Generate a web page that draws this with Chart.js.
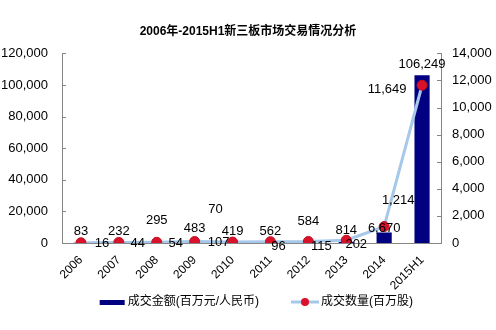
<!DOCTYPE html>
<html>
<head>
<meta charset="utf-8">
<script src="https://cdn.jsdelivr.net/npm/chart.js@4"></script>
<style>
  body { margin: 0; background: #fff; }
  #wrap { width: 496px; height: 330px; }
</style>
</head>
<body>
<div id="wrap"><canvas id="tradeChart" width="496" height="330"></canvas></div>
<script>
// 新三板 2006-2015H1
const years = ['2006','2007','2008','2009','2010','2011','2012','2013','2014','2015H1'];
const turnover = [83, 232, 295, 483, 419, 562, 584, 814, 6670, 106249];   // 成交金额(百万元/人民币)
const volume = [16, 44, 54, 107, 70, 96, 115, 202, 1214, 11649];          // 成交数量(百万股)
const leftTicks = [0, 20000, 40000, 60000, 80000, 100000, 120000];
const rightTicks = [0, 2000, 4000, 6000, 8000, 10000, 12000, 14000];

// label nudges (px), kept apart from the values
const barLabelLift = [0, 0, 11, 3, 0, 0, 10, 0, -7, 0];
const lineLabelShift = [[21,1],[19,1],[19,1],[24,1],[-17,-33],[8,5],[13,5],[10,4],[14,-26],[-35,4]];

const FONT = '"Liberation Sans", Arial, "Noto Sans CJK SC", sans-serif';
const fmt = v => v.toLocaleString('en-US');

// legend swatches (drawn a bit wider than the legend box so they sit close to the text)
function swatch(kind) {
    const c = document.createElement('canvas');
    c.width = 60; c.height = 12;
    const g = c.getContext('2d');
    if (kind === 'bar') {
        g.fillStyle = '#000080';
        g.fillRect(34, 4, 25, 5);
    } else {
        g.strokeStyle = '#a6c8ea';
        g.lineWidth = 3;
        g.beginPath(); g.moveTo(32, 6); g.lineTo(60, 6); g.stroke();
        g.fillStyle = '#d9112b';
        g.beginPath(); g.arc(46, 6, 4, 0, Math.PI * 2); g.fill();
    }
    return c;
}

// value labels + inner tick marks
const extras = {
    id: 'extras',
    afterDatasetsDraw(chart) {
        const ctx = chart.ctx;
        ctx.save();
        ctx.font = '13px ' + FONT;
        ctx.fillStyle = '#000';
        ctx.textAlign = 'center';
        ctx.textBaseline = 'middle';
        const bars = chart.getDatasetMeta(0).data;
        bars.forEach((b, i) => {
            ctx.fillText(fmt(turnover[i]), b.x, b.y - 11 - barLabelLift[i]);
        });
        const pts = chart.getDatasetMeta(1).data;
        pts.forEach((p, i) => {
            ctx.fillText(fmt(volume[i]), p.x + lineLabelShift[i][0], p.y + lineLabelShift[i][1]);
        });

        const area = chart.chartArea;
        ctx.strokeStyle = '#868686';
        ctx.lineWidth = 1;
        ctx.beginPath();
        leftTicks.forEach(v => {
            const y = Math.round(chart.scales.yL.getPixelForValue(v)) + 0.5;
            ctx.moveTo(area.left, y); ctx.lineTo(area.left + 4, y);
        });
        rightTicks.forEach(v => {
            const y = Math.round(chart.scales.yR.getPixelForValue(v)) + 0.5;
            ctx.moveTo(area.right, y); ctx.lineTo(area.right - 4, y);
        });
        ctx.stroke();
        ctx.restore();
    }
};

new Chart(document.getElementById('tradeChart'), {
    data: {
        labels: years,
        datasets: [{
            type: 'bar',
            label: '成交金额(百万元/人民币)',
            data: turnover,
            yAxisID: 'yL',
            backgroundColor: '#000080',
            barPercentage: 0.4,
            categoryPercentage: 1,
            order: 2
        }, {
            type: 'line',
            label: '成交数量(百万股)',
            data: volume,
            yAxisID: 'yR',
            borderColor: '#a6c8ea',
            borderWidth: 3,
            pointRadius: 5,
            pointBackgroundColor: '#d9112b',
            pointBorderColor: '#c0101f',
            pointBorderWidth: 1,
            tension: 0,
            order: 1
        }]
    },
    options: {
        responsive: false,
        animation: false,
        layout: { padding: { top: 0, bottom: 12, left: 0, right: 0 } },
        plugins: {
            tooltip: { enabled: false },
            title: {
                display: true,
                text: '2006年-2015H1新三板市场交易情况分析',
                color: '#000',
                font: { family: FONT, size: 12, weight: 'bold' },
                padding: { top: 24, bottom: 15 }
            },
            legend: {
                position: 'bottom',
                labels: {
                    usePointStyle: true,
                    pointStyleWidth: 52,
                    padding: 4,
                    color: '#000',
                    font: { family: FONT, size: 12 },
                    generateLabels: () => [
                        { text: '成交金额(百万元/人民币)', pointStyle: swatch('bar'), datasetIndex: 0, lineWidth: 0 },
                        { text: '成交数量(百万股)    ', pointStyle: swatch('line'), datasetIndex: 1, lineWidth: 0 }
                    ]
                }
            }
        },
        scales: {
            x: {
                grid: { display: false },
                border: { color: '#868686' },
                ticks: { color: '#000', font: { family: FONT, size: 12 }, minRotation: 45, maxRotation: 45, padding: 2 },
                afterFit: s => { s.height = 49; }
            },
            yL: {
                position: 'left',
                min: 0, max: 120000,
                afterBuildTicks: s => { s.ticks = leftTicks.map(v => ({ value: v })); },
                grid: { display: false, drawTicks: false },
                border: { color: '#868686' },
                ticks: { color: '#000', font: { family: FONT, size: 13 }, padding: 14, callback: v => fmt(v) },
                afterFit: s => { s.width = 62; }
            },
            yR: {
                position: 'right',
                min: 0, max: 14000,
                afterBuildTicks: s => { s.ticks = rightTicks.map(v => ({ value: v })); },
                grid: { display: false, drawTicks: false },
                border: { color: '#868686' },
                ticks: { color: '#000', font: { family: FONT, size: 13 }, padding: 11, callback: v => fmt(v) },
                afterFit: s => { s.width = 55; }
            }
        }
    },
    plugins: [extras]
});
</script>
</body>
</html>
